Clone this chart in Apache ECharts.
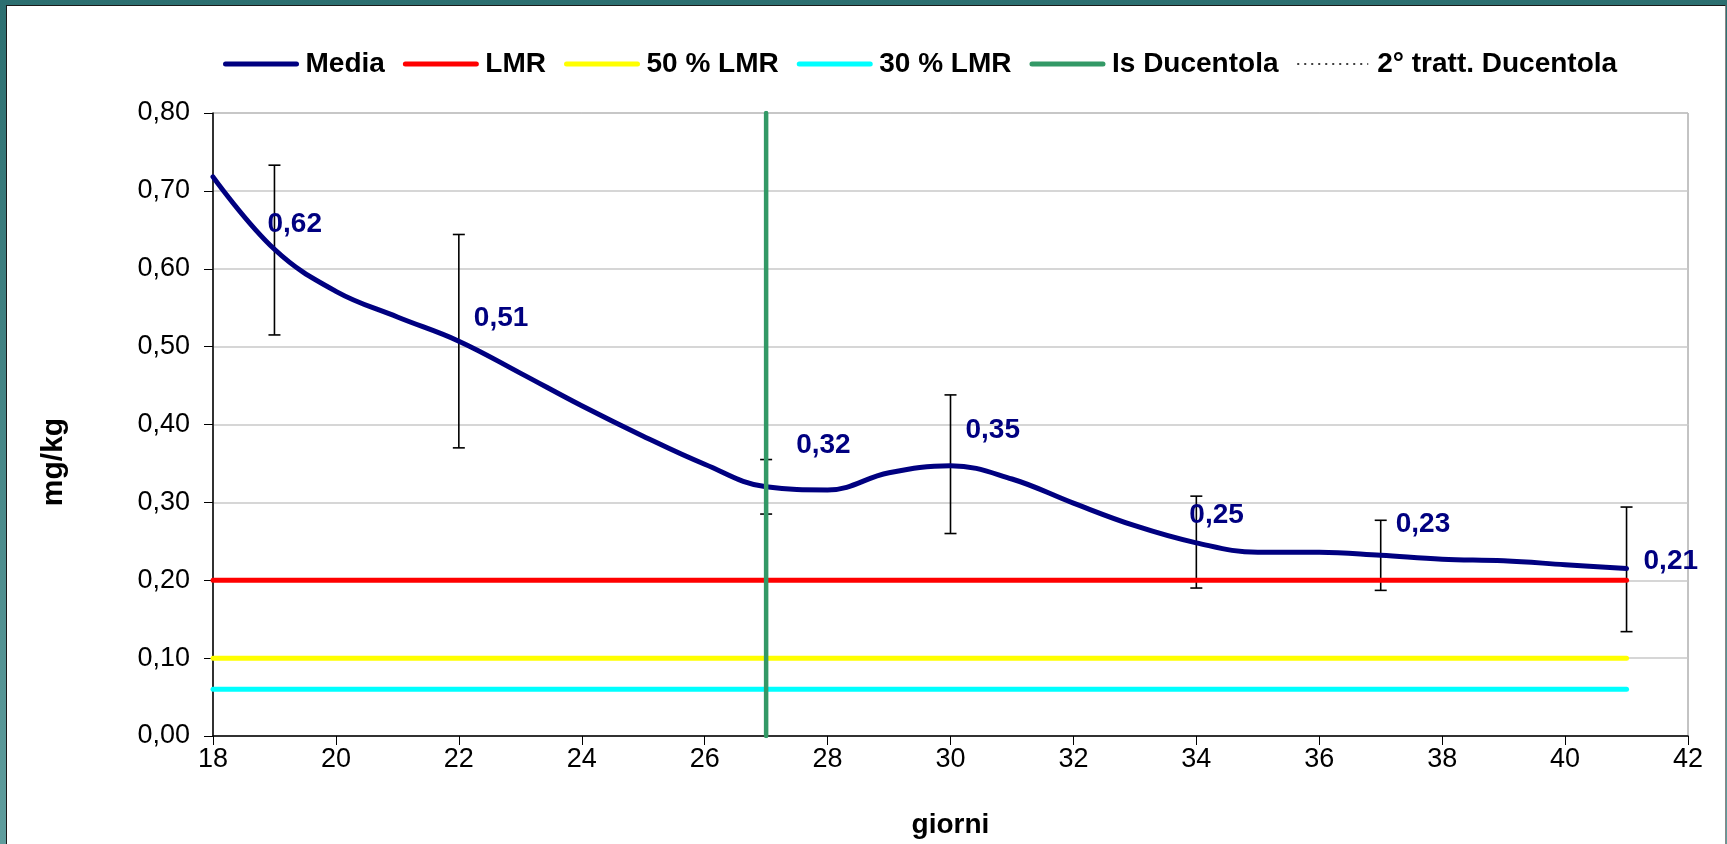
<!DOCTYPE html>
<html><head><meta charset="utf-8">
<script src="https://cdn.jsdelivr.net/npm/echarts@6.0.0/dist/echarts.min.js"></script>
<style>
html,body{margin:0;padding:0;width:1727px;height:844px;overflow:hidden;background:linear-gradient(#2c6f70,#5f9d9d);}
#panel{position:absolute;left:6px;top:5px;width:1718px;height:845px;background:#fff;border-top:1px solid #1a1a1a;border-left:1px solid #1a1a1a;border-right:1px solid #888;}
#chart{position:absolute;left:0;top:0;width:1727px;height:844px;}
</style></head><body><div id="panel"></div><div id="chart"></div>
<script>
// ---- data ----
const days = [18,19,20,21,22,23,24,25,26,27,28,29,30,31,32,33,34,35,36,37,38,39,40,41];
const mediaValues = [0.718,0.625,0.571,0.538,0.507,0.466,0.424,0.385,0.349,0.320,0.316,0.338,0.347,0.330,0.299,0.270,0.248,0.236,0.236,0.232,0.227,0.225,0.220,0.215];
const pointDays = [19,22,27,30,34,37,41];
const pointMeans = [0.624,0.507,0.320,0.349,0.249,0.232,0.214];
const pointSD = [0.109,0.137,0.035,0.089,0.059,0.045,0.080];
const lmrValue = 0.20;
const lmr50Value = 0.10;
const lmr30Value = 0.06;
const refStartDay = 18, refEndDay = 41;
const isDucentolaDay = 27;
const seriesNames = ['Media','LMR','50 % LMR','30 % LMR','Is Ducentola','2° tratt. Ducentola'];
const xName = 'giorni', yName = 'mg/kg';

// ---- layout / style (not data) ----
const labelOffsets = [[-7,-26],[15,-23],[30,-42],[15,-34],[-7,-27],[15,-31],[17,-8]];
const FONT = 'Liberation Sans, Arial, sans-serif';
const fmt = v => v.toFixed(2).replace('.', ',');

const chart = echarts.init(document.getElementById('chart'), null, {renderer:'canvas'});
const hLine = v => [[refStartDay, v],[refEndDay, v]];

const option = {
  animation:false,
  backgroundColor:'transparent',
  textStyle:{fontFamily:FONT},
  legend:{
    left:218, top:45, itemWidth:71, itemHeight:14, itemGap:18,
    itemStyle:{opacity:0},
    lineStyle:{width:5, cap:'round'},
    textStyle:{fontFamily:FONT, fontSize:28, fontWeight:'bold', color:'#000', padding:[0,0,0,4]},
    data:seriesNames.map((n,i)=> i===5 ? {name:n, lineStyle:{width:1.5, type:[2,5], cap:'butt'}} : {name:n})
  },
  graphic:[{
    type:'text', x:54, y:462, rotation:Math.PI/2, silent:true,
    style:{text:yName, fontFamily:FONT, fontSize:30, fontWeight:'bold', fill:'#000', align:'center', verticalAlign:'middle'}
  }],
  grid:{left:213, top:113, right:39, bottom:108, show:true, borderColor:'#888', borderWidth:1, outerBoundsMode:'none'},
  xAxis:{
    type:'value', min:18, max:42, interval:2,
    name:xName, nameLocation:'middle', nameGap:75,
    nameTextStyle:{fontFamily:FONT, fontSize:28, fontWeight:'bold', color:'#000'},
    axisLine:{show:true, lineStyle:{color:'#000', width:1.5}},
    axisTick:{show:true, length:9, lineStyle:{color:'#000'}},
    axisLabel:{fontFamily:FONT, fontSize:27, color:'#000', margin:10},
    splitLine:{show:false}
  },
  yAxis:{
    type:'value', min:0, max:0.8, interval:0.1,
    axisLine:{show:true, lineStyle:{color:'#000', width:1.5}},
    axisTick:{show:true, length:9, lineStyle:{color:'#000'}},
    axisLabel:{fontFamily:FONT, fontSize:27, color:'#000', margin:23, formatter:v=>fmt(v)},
    splitLine:{show:true, lineStyle:{color:'#c8c8c8', width:1.5}}
  },
  series:[
    {name:'Media', type:'line', smooth:0.4, showSymbol:false, symbol:'none', z:4,
     lineStyle:{color:'#000080', width:5, cap:'round'}, itemStyle:{color:'#000080'},
     data:days.map((d,i)=>[d, mediaValues[i]])},
    {name:'LMR', type:'line', showSymbol:false, symbol:'none', z:3,
     lineStyle:{color:'#ff0000', width:5, cap:'round'}, itemStyle:{color:'#ff0000'}, data:hLine(lmrValue)},
    {name:'50 % LMR', type:'line', showSymbol:false, symbol:'none', z:3,
     lineStyle:{color:'#ffff00', width:5, cap:'round'}, itemStyle:{color:'#ffff00'}, data:hLine(lmr50Value)},
    {name:'30 % LMR', type:'line', showSymbol:false, symbol:'none', z:3,
     lineStyle:{color:'#00ffff', width:5, cap:'round'}, itemStyle:{color:'#00ffff'}, data:hLine(lmr30Value)},
    {name:'Is Ducentola', type:'line', showSymbol:false, symbol:'none', z:5,
     lineStyle:{color:'#339966', width:4.5, cap:'round'}, itemStyle:{color:'#339966'},
     data:[[isDucentolaDay,0],[isDucentolaDay,0.8]]},
    {name:'2° tratt. Ducentola', type:'line', showSymbol:false, symbol:'none', z:5,
     lineStyle:{color:'#000', width:1.5, type:'dotted'}, itemStyle:{color:'#000'}, data:[]},
    {name:'errbars', type:'custom', z:2, silent:true,
     data:pointDays.map((d,i)=>[d, pointMeans[i], pointSD[i]]),
     renderItem:(params, api)=>{
       const x=api.value(0), m=api.value(1), s=api.value(2);
       const t=api.coord([x,m+s]), b=api.coord([x,m-s]);
       const hw=6, st={stroke:'#000', lineWidth:1.6};
       return {type:'group', children:[
         {type:'line', shape:{x1:t[0],y1:t[1],x2:b[0],y2:b[1]}, style:st},
         {type:'line', shape:{x1:t[0]-hw,y1:t[1],x2:t[0]+hw,y2:t[1]}, style:st},
         {type:'line', shape:{x1:b[0]-hw,y1:b[1],x2:b[0]+hw,y2:b[1]}, style:st}
       ]};
     }},
    {name:'labels', type:'scatter', z:6, silent:true, symbolSize:0, itemStyle:{opacity:1},
     data:pointDays.map((d,i)=>({value:[d, pointMeans[i]], label:{offset:labelOffsets[i]}})),
     label:{show:true, position:'right', distance:0, align:'left', verticalAlign:'middle',
       fontFamily:FONT, fontSize:28, fontWeight:'bold', color:'#000080',
       formatter:p=>fmt(p.value[1])}}
  ]
};
chart.setOption(option);
</script></body></html>
